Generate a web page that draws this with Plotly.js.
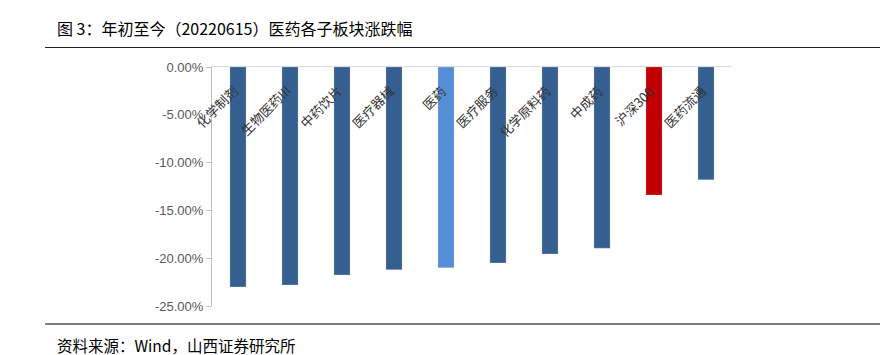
<!DOCTYPE html>
<html>
<head>
<meta charset="utf-8">
<script src="https://cdn.plot.ly/plotly-3.0.1.min.js"></script>
<style>html,body{margin:0;padding:0;background:#fff;}#chart{width:880px;height:355px;}</style>
</head>
<body>
<div id="chart"></div>
<script>
const categories = ["化学制剂", "生物医药III", "中药饮片", "医疗器械", "医药", "医疗服务", "化学原料药", "中成药", "沪深300", "医药流通"];
const values = [-23.0, -22.8, -21.75, -21.2, -21.0, -20.5, -19.55, -18.95, -13.4, -11.8];
const barColors = ["#355F91", "#355F91", "#355F91", "#355F91", "#558ED5", "#355F91", "#355F91", "#355F91", "#C00000", "#355F91"];
const tickVals = [0, -5, -10, -15, -20, -25];
const tickText = ["0.00%", "-5.00%", "-10.00%", "-15.00%", "-20.00%", "-25.00%"];
const titleText = "图 3：年初至今（20220615）医药各子板块涨跌幅";
const sourceText = "资料来源：Wind，山西证券研究所";

const W = 880, H = 355;
const px = v => v / W;
const py = v => 1 - v / H;
const cjk = '"Noto Sans CJK SC", "Noto Sans", sans-serif';

const trace = {
  type: 'bar',
  x: categories,
  y: values,
  width: 0.31,
  marker: {color: barColors, line: {color: 'rgba(255,255,255,0.35)', width: 0.6}},
  hoverinfo: 'none'
};

const annotations = categories.map(c => ({
  x: c, y: 0, xref: 'x', yref: 'y',
  text: c, showarrow: false, textangle: -45,
  xanchor: 'right', yanchor: 'top',
  xshift: 7, yshift: -12,
  font: {family: cjk, size: 13, color: '#333'}
}));
annotations.push({
  x: px(55), y: py(28), xref: 'paper', yref: 'paper',
  text: titleText, showarrow: false, xanchor: 'left', yanchor: 'middle',
  font: {family: cjk, size: 16, color: '#000'}
});
annotations.push({
  x: px(55), y: py(345), xref: 'paper', yref: 'paper',
  text: sourceText, showarrow: false, xanchor: 'left', yanchor: 'middle',
  font: {family: cjk, size: 15.5, color: '#000'}
});

const layout = {
  width: W, height: H,
  margin: {l: 0, r: 0, t: 0, b: 0},
  paper_bgcolor: '#fff', plot_bgcolor: '#fff',
  showlegend: false,
  xaxis: {
    domain: [px(212), px(732)],
    range: [-0.5, categories.length - 0.5],
    autorange: false,
    side: 'top',
    showline: true, linecolor: '#D9D9D9', linewidth: 1,
    showticklabels: false, ticks: '', showgrid: false, zeroline: false,
    fixedrange: true
  },
  yaxis: {
    domain: [py(306), py(67)],
    range: [-25, 0],
    autorange: false,
    tickvals: tickVals, ticktext: tickText,
    ticks: 'outside', ticklen: 5, tickcolor: '#BFBFBF',
    showline: true, linecolor: '#BFBFBF', linewidth: 1,
    showgrid: false, zeroline: false,
    tickfont: {family: '"Liberation Sans", Arial, sans-serif', size: 13, color: '#595959'},
    fixedrange: true
  },
  shapes: [
    {type: 'line', xref: 'paper', yref: 'paper', x0: px(45), x1: 1, y0: py(47.5), y1: py(47.5), line: {color: '#222', width: 1.2}},
    {type: 'line', xref: 'paper', yref: 'paper', x0: px(45), x1: 1, y0: py(324), y1: py(324), line: {color: '#808080', width: 1.8}}
  ],
  annotations: annotations
};

Plotly.newPlot('chart', [trace], layout, {displayModeBar: false, staticPlot: true});
</script>
</body>
</html>
